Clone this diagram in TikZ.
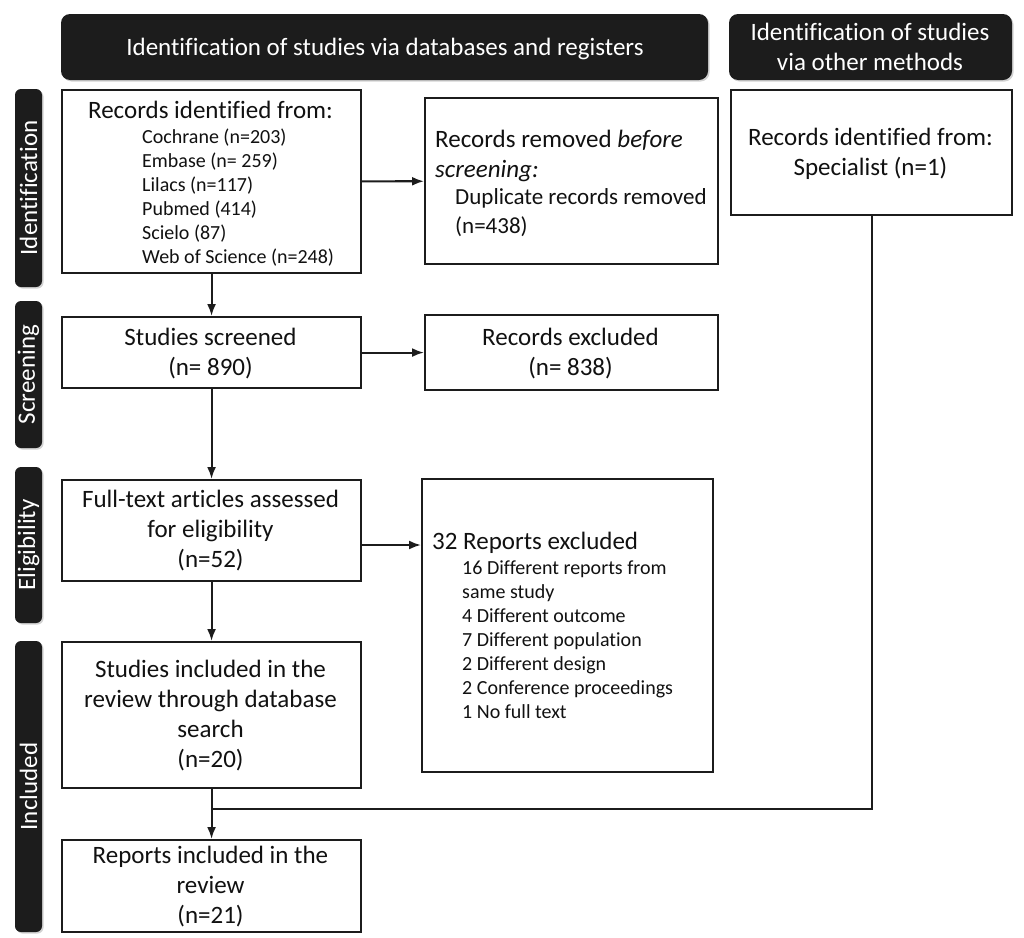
\documentclass[tikz,border=0pt]{standalone}
\usepackage{fontspec}
\setmainfont[Ligatures=NoCommon]{Carlito}
\usetikzlibrary{arrows.meta,calc,shadows}
\definecolor{dark}{HTML}{1C1C1C}
\definecolor{ink}{HTML}{111111}
\begin{document}
\begin{tikzpicture}[x=1pt,y=-1pt,
  box/.style={draw=dark,line width=2.1pt,rectangle,inner sep=0pt,anchor=north west},
  hdr/.style={fill=dark,rounded corners=9pt,inner sep=0pt,text=white,align=center,
     font=\fontsize{25}{30}\selectfont,
     drop shadow={shadow xshift=1.5pt,shadow yshift=-1.5pt,opacity=.35}},
  side/.style={fill=dark,rounded corners=6pt,inner sep=0pt,text=white,rotate=90,
     minimum height=27pt,font=\fontsize{25}{30}\selectfont,
     drop shadow={shadow xshift=1.5pt,shadow yshift=-1.5pt,opacity=.35}},
  big/.style={inner sep=0pt,text=ink,font=\fontsize{25}{30}\selectfont},
  small/.style={inner sep=0pt,text=ink,align=left,font=\fontsize{20}{24}\selectfont},
  mid/.style={inner sep=0pt,text=ink,align=left,font=\fontsize{23}{29}\selectfont},
  conn/.style={draw=dark,line width=2.1pt},
  arr/.style={conn,-{Latex[length=12pt,width=9pt]}}]
\useasboundingbox[fill=white] (0,0) rectangle (1024,937);

% headers
\node[hdr,minimum width=647pt,minimum height=66pt] (h1) at (384.5,47) {};
\node[big,text=white,anchor=base] (h1t) at (385,55) {Identification of studies via databases and registers};
\node[hdr,minimum width=283pt,minimum height=66pt] (h2) at (870.5,47) {};
\node[big,text=white,anchor=base,align=center] (h2t) at (870,70) {Identification of studies\\via other methods};

% side bars
\node[side,minimum width=198pt] (s1) at (28.5,188) {Identification};
\node[side,minimum width=147pt] (s2) at (28.5,374.5) {Screening};
\node[side,minimum width=156pt] (s3) at (28.5,545) {Eligibility};
\node[side,minimum width=291pt] (s4) at (28.5,786.5) {Included};

% boxes
\node[box,minimum width=299pt,minimum height=183pt] (A) at (61,89) {};
\node[box,minimum width=293pt,minimum height=166pt] (B) at (424,97) {};
\node[box,minimum width=281pt,minimum height=125pt] (C) at (730,89) {};
\node[box,minimum width=299pt,minimum height=71pt] (D) at (61,316) {};
\node[box,minimum width=293pt,minimum height=75pt] (E) at (424,314) {};
\node[box,minimum width=299pt,minimum height=101pt] (F) at (61,479) {};
\node[box,minimum width=291pt,minimum height=293pt] (G) at (421,478) {};
\node[box,minimum width=299pt,minimum height=146pt] (H) at (61,641) {};
\node[box,minimum width=299pt,minimum height=92pt] (I) at (61,839) {};

% texts (anchor=base of a multi-line node = baseline of its last line)
\node[big,anchor=base] (At) at (210.5,118) {Records identified from:};
\node[small,anchor=base west] (As) at (142,263) {Cochrane (n=203)\\Embase (n= 259)\\Lilacs (n=117)\\Pubmed (414)\\Scielo (87)\\Web of Science (n=248)};
\node[big,anchor=base west,align=left] (Bt) at (435,177) {Records removed \textit{before}\\\textit{screening:}};
\node[mid,anchor=base west] (Bs) at (455,233) {Duplicate records removed\\(n=438)};
\node[big,anchor=base,align=center] (Ct) at (870.5,175) {Records identified from:\\Specialist (n=1)};
\node[big,anchor=base,align=center] (Dt) at (210.5,375) {Studies screened\\(n= 890)};
\node[big,anchor=base,align=center] (Et) at (570.5,375) {Records excluded\\(n= 838)};
\node[big,anchor=base,align=center] (Ft) at (210.5,567) {Full-text articles assessed\\for eligibility\\(n=52)};
\node[big,anchor=base west] (Gt) at (432,549) {32 Reports excluded};
\node[small,anchor=base west] (Gs) at (462,718) {16 Different reports from\\same study\\4 Different outcome\\7 Different population\\2 Different design\\2 Conference proceedings\\1 No full text};
\node[big,anchor=base,align=center] (Ht) at (210.5,767) {Studies included in the\\review through database\\search\\(n=20)};
\node[big,anchor=base,align=center] (It) at (210.5,923) {Reports included in the\\review\\(n=21)};

% connectors
\coordinate (fg) at (421,545);
\coordinate (m) at (210.5,809);
\draw[arr] (A) -- (B);
\draw[arr] (A) -- (D);
\draw[arr] (D) -- (E);
\draw[arr] (D) -- (F);
\draw[arr] (F.east |- fg) -- (fg);
\draw[arr] (F) -- (H);
\draw[arr] (H) -- (I);
\draw[conn] (C.south) |- (m);
\end{tikzpicture}
\end{document}
